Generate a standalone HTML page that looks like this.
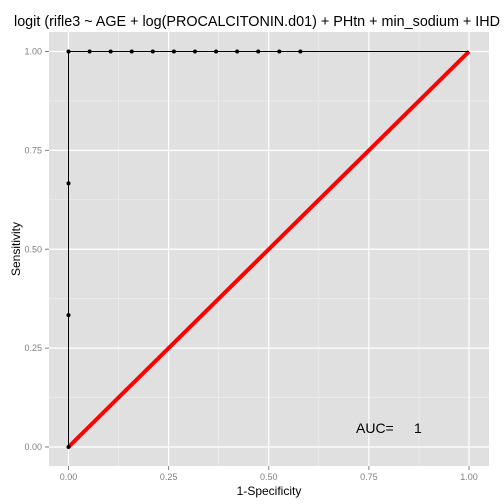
<!DOCTYPE html>
<html><head><meta charset="utf-8"><style>
body{margin:0;background:#fff;}
svg{display:block;font-family:"Liberation Sans",sans-serif;}
</style></head><body>
<svg id="c" width="504" height="504"></svg>
<script>
const rocFpr=[0,0,0,0,1/19,2/19,3/19,4/19,5/19,6/19,7/19,8/19,9/19,10/19,11/19,1];
const rocTpr=[0,1/3,2/3,1,1,1,1,1,1,1,1,1,1,1,1,1];
const pointFpr=[0,0,0,0,1/19,2/19,3/19,4/19,5/19,6/19,7/19,8/19,9/19,10/19,11/19];
const pointTpr=[0,1/3,2/3,1,1,1,1,1,1,1,1,1,1,1,1];
const tickVals=[0,0.25,0.5,0.75,1];
const tickLabels=["0.00","0.25","0.50","0.75","1.00"];
const auc="1";
const NS="http://www.w3.org/2000/svg";
const svg=document.getElementById('c');
const X=v=>68.5+v*400.5, Y=v=>447-v*395.5;
function el(t,a,p){const e=document.createElementNS(NS,t);for(const k in a)e.setAttribute(k,a[k]);(p||svg).appendChild(e);return e;}
const panel=el('rect',{x:49,y:32,width:440,height:434,fill:'#e0e0e0'});


for(let i=0;i<tickVals.length-1;i++){const m=(tickVals[i]+tickVals[i+1])/2;
el('line',{x1:X(m),x2:X(m),y1:32,y2:466,stroke:'#f0f0f0','stroke-width':0.6});
el('line',{x1:49,x2:489,y1:Y(m),y2:Y(m),stroke:'#f0f0f0','stroke-width':0.6});}
tickVals.forEach((v,i)=>{
el('line',{x1:X(v),x2:X(v),y1:32,y2:466,stroke:'#fff','stroke-width':1.2});
el('line',{x1:49,x2:489,y1:Y(v),y2:Y(v),stroke:'#fff','stroke-width':1.2});
el('line',{x1:X(v),x2:X(v),y1:466,y2:470,stroke:'#7f7f7f'});
el('line',{x1:45,x2:49,y1:Y(v),y2:Y(v),stroke:'#7f7f7f'});
const tx=el('text',{x:X(v),y:480,'font-size':9,fill:'#7f7f7f','text-anchor':'middle'});tx.textContent=tickLabels[i];


const ty=el('text',{x:42,y:Y(v)+3,'font-size':9,fill:'#7f7f7f','text-anchor':'end'});ty.textContent=tickLabels[i];


});
const diag=el('line',{x1:X(0),y1:Y(0),x2:X(1),y2:Y(1),stroke:'#ff0000','stroke-width':4});


const path=el('polyline',{points:rocFpr.map((f,i)=>X(f)+','+Y(rocTpr[i])).join(' '),fill:'none',stroke:'#000','stroke-width':1});


pointFpr.forEach((f,i)=>{const c=el('circle',{cx:X(f),cy:Y(pointTpr[i]),r:2,fill:'#000'});

});
const a=el('text',{x:356,y:433,'font-size':14,fill:'#000'});a.textContent='AUC=';


const av=el('text',{x:414,y:433,'font-size':14,fill:'#000'});av.textContent=auc;


const t=el('text',{x:14,y:26,'font-size':15,fill:'#000',textLength:486,lengthAdjust:'spacingAndGlyphs'});t.textContent='logit (rifle3 ~ AGE + log(PROCALCITONIN.d01) + PHtn + min_sodium + IHD';


const xt=el('text',{x:269,y:495,'font-size':12,'text-anchor':'middle'});xt.textContent='1-Specificity';


const yt=el('text',{x:0,y:0,'font-size':12,'text-anchor':'middle',transform:'translate(20,249) rotate(-90)'});yt.textContent='Sensitivity';


</script>
</body></html>
